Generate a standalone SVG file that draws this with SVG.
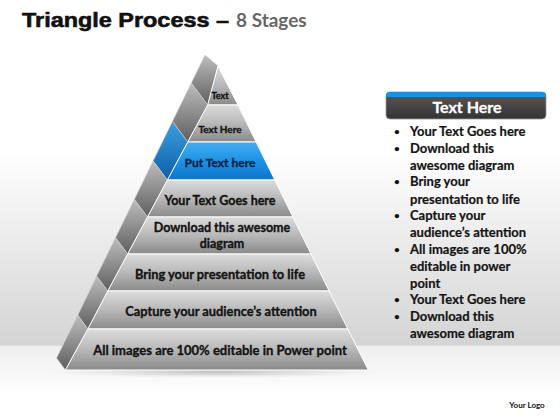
<svg xmlns="http://www.w3.org/2000/svg" width="560" height="420" viewBox="0 0 560 420">
<defs>
<linearGradient id="bg" x1="0" y1="0" x2="0" y2="420" gradientUnits="userSpaceOnUse">
<stop offset="0" stop-color="#ffffff"/>
<stop offset="0.36" stop-color="#ffffff"/>
<stop offset="0.822" stop-color="#d4d4d4"/>
<stop offset="0.824" stop-color="#eeeeee"/>
<stop offset="0.94" stop-color="#ffffff"/>
<stop offset="1" stop-color="#ffffff"/>
</linearGradient>
<radialGradient id="shadow" cx="0.5" cy="0.5" r="0.5">
<stop offset="0" stop-color="#9a9a9a" stop-opacity="0.6"/>
<stop offset="1" stop-color="#bbbbbb" stop-opacity="0"/>
</radialGradient>
<linearGradient id="gf" x1="0" y1="0" x2="0" y2="1">
<stop offset="0" stop-color="#dcdcdc"/>
<stop offset="0.5" stop-color="#b8b8b8"/>
<stop offset="1" stop-color="#8a8a8a"/>
</linearGradient>
<linearGradient id="gb" x1="0" y1="0" x2="0" y2="1">
<stop offset="0" stop-color="#45aef2"/>
<stop offset="0.5" stop-color="#1e92e4"/>
<stop offset="1" stop-color="#0b74cc"/>
</linearGradient>
<linearGradient id="gs" x1="0" y1="0" x2="0" y2="1">
<stop offset="0" stop-color="#bdbdbd"/>
<stop offset="0.5" stop-color="#8e8e8e"/>
<stop offset="1" stop-color="#5e5e5e"/>
</linearGradient>
<linearGradient id="gsb" x1="0" y1="0" x2="0" y2="1">
<stop offset="0" stop-color="#3c9ee0"/>
<stop offset="1" stop-color="#0e5fa8"/>
</linearGradient>
<linearGradient id="gh" x1="0" y1="0" x2="0" y2="1">
<stop offset="0" stop-color="#5a5a5a"/>
<stop offset="1" stop-color="#333333"/>
</linearGradient>
</defs>
<style>
.front{fill:url(#gf);stroke:#ffffff;stroke-width:1}
.blue{fill:url(#gb);stroke:#ffffff;stroke-width:1}
.side{fill:url(#gs);stroke:#d0d0d0;stroke-width:0.6}
.sideb{fill:url(#gsb);stroke:#d0d0d0;stroke-width:0.6}
.t{font-family:Lato,"Liberation Sans",sans-serif;font-weight:700;fill:#141414;stroke:#141414;stroke-width:0.35;text-anchor:middle}
.b{font-family:Lato,"Liberation Sans",sans-serif;font-weight:700;fill:#141414;stroke:#141414;stroke-width:0.2;font-size:13px}
.d{font-family:Lato,"Liberation Sans",sans-serif;font-weight:700;fill:#141414;font-size:10px}
</style>
<rect x="0" y="0" width="560" height="420" fill="url(#bg)"/>
<ellipse cx="215" cy="372" rx="170" ry="6" fill="url(#shadow)"/>
<g id="title">
<text x="22" y="27" font-family="'Liberation Sans',sans-serif" font-weight="700" font-size="21" fill="#111" stroke="#111" stroke-width="0.6" textLength="207" lengthAdjust="spacingAndGlyphs">Triangle Process –</text>
<text x="236" y="27" font-family="Lato,sans-serif" font-weight="700" font-size="19" fill="#666666">8 Stages</text>
</g>
<g id="tier1">
<polygon class="side" points="205,55 218,66 207.7,105 191.3,83.1"/>
<polygon class="front" points="218,66 238,105 207.7,105"/>
<text class="t" x="220" y="99" font-size="9">Text</text>
</g>
<g id="tier2">
<polygon class="side" points="191.3,83.1 207.7,105 187.8,142 172.4,121.5"/>
<polygon class="front" points="207.7,105 238,105 256.1,142 187.8,142"/>
<text class="t" x="220" y="133" font-size="10">Text Here</text>
</g>
<g id="tier3">
<polygon class="sideb" points="172.4,121.5 187.8,142 167.4,180 153.1,160.9"/>
<polygon class="blue" points="187.8,142 256.1,142 274.8,180 167.4,180"/>
<text class="t" x="220" y="167" font-size="12" style="fill:#0b1f45;stroke:#0b1f45">Put Text here</text>
</g>
<g id="tier4">
<polygon class="side" points="153.1,160.9 167.4,180 147.5,217 134.3,199.4"/>
<polygon class="front" points="167.4,180 274.8,180 292.9,217 147.5,217"/>
<text class="t" x="220" y="205" font-size="12.5">Your Text Goes here</text>
</g>
<g id="tier5">
<polygon class="side" points="134.3,199.4 147.5,217 127.7,254 115.5,237.7"/>
<polygon class="front" points="147.5,217 292.9,217 311,254 127.7,254"/>
<text class="t" x="222" y="232" font-size="12.5">Download this awesome</text>
<text class="t" x="222" y="248" font-size="12.5">diagram</text>
</g>
<g id="tier6">
<polygon class="side" points="115.5,237.7 127.7,254 107.8,291 96.6,276.1"/>
<polygon class="front" points="127.7,254 311,254 329.1,291 107.8,291"/>
<text class="t" x="220" y="279" font-size="12.8">Bring your presentation to life</text>
</g>
<g id="tier7">
<polygon class="side" points="96.6,276.1 107.8,291 87.9,329 77.8,315.2"/>
<polygon class="front" points="107.8,291 329.1,291 347.8,329 87.9,329"/>
<text class="t" x="221" y="316" font-size="12.8">Capture your audience’s  attention</text>
</g>
<g id="tier8">
<polygon class="side" points="77.8,315.2 87.9,329 65.4,370 56.5,358"/>
<polygon class="front" points="87.9,329 347.8,329 368.3,370 65.4,370"/>
<text class="t" x="220" y="355" font-size="13">All images are 100% editable in Power point</text>
</g>
<g id="panel">
<rect x="386" y="92" width="160" height="27" rx="4" fill="url(#gh)" stroke="#9a9a9a" stroke-width="0.8"/>
<path d="M390,92 H542 A4,4 0 0 1 546,96 V97 H386 V96 A4,4 0 0 1 390,92 Z" fill="#1e90dc"/>
<text x="467" y="113" font-family="Lato,'Liberation Sans',sans-serif" font-weight="700" font-size="16" fill="#ffffff" stroke="#ffffff" stroke-width="0.3" text-anchor="middle">Text Here</text>
</g>
<g id="bullets">
<text class="d" x="394" y="135">•</text><text class="b" x="410" y="136">Your Text Goes here</text>
<text class="d" x="394" y="152">•</text><text class="b" x="410" y="153">Download this</text>
<text class="b" x="410" y="170">awesome diagram</text>
<text class="d" x="394" y="185">•</text><text class="b" x="410" y="186">Bring your</text>
<text class="b" x="410" y="204">presentation to life</text>
<text class="d" x="394" y="219">•</text><text class="b" x="410" y="220">Capture your</text>
<text class="b" x="410" y="237">audience’s attention</text>
<text class="d" x="394" y="253">•</text><text class="b" x="410" y="254">All images are 100%</text>
<text class="b" x="410" y="271">editable in power</text>
<text class="b" x="410" y="288">point</text>
<text class="d" x="394" y="303">•</text><text class="b" x="410" y="304">Your Text Goes here</text>
<text class="d" x="394" y="320">•</text><text class="b" x="410" y="321">Download this</text>
<text class="b" x="410" y="338">awesome diagram</text>
</g>
<g id="logo">
<text x="527" y="408" font-family="Lato,'Liberation Sans',sans-serif" font-weight="700" font-size="8" fill="#111" text-anchor="middle">Your Logo</text>
</g>
<g id="connectors"/>
</svg>
